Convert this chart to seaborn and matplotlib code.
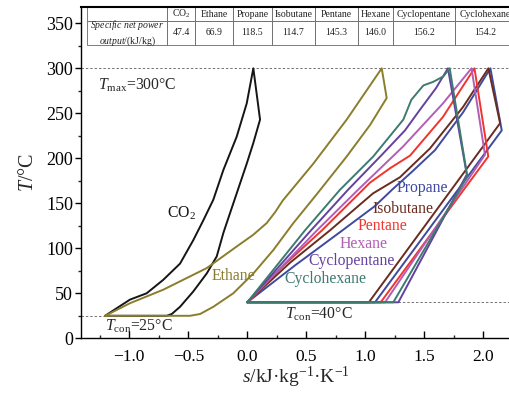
import matplotlib
matplotlib.use("Agg")
import matplotlib.pyplot as plt
from matplotlib.ticker import MultipleLocator
import seaborn as sns

# ---- table data -------------------------------------------------------
fluids = ["CO$_2$", "Ethane", "Propane", "Isobutane", "Pentane",
          "Hexane", "Cyclopentane", "Cyclohexane"]
net_power = [47.4, 66.9, 118.5, 114.7, 145.3, 146.0, 156.2, 154.2]
colors = ["#151515", "#8a7d2c", "#3f4a9e", "#6b2c20", "#f0352d",
          "#b35db5", "#6441a0", "#3e7b6f"]

# ---- characteristic temperatures (degC) -------------------------------
T_max = 300
T_con_co2 = 25
T_con_orc = 40

# ---- T-s cycle paths (s in kJ/(kg K), T in degC) -----------------------
s_co2 = [-1.205, -1.10, -0.994, -0.853, -0.712, -0.570, -0.458, -0.373,
         -0.288, -0.203, -0.09, -0.005, 0.051, 0.108, 0.051, -0.005, -0.09,
         -0.175, -0.203, -0.259, -0.344, -0.458, -0.57, -0.64, -0.683, -1.205]
T_co2 = [25, 34, 43, 50, 65, 83, 109, 131, 154, 187, 224, 261, 300, 243,
         217, 194, 161, 128, 117, 91, 72, 52, 35, 27, 25, 25]

s_ethane = [-1.205, -0.994, -0.712, -0.344, -0.09, 0.05, 0.164, 0.235,
            0.30, 0.559, 0.842, 1.139, 1.181, 1.04, 0.842, 0.588, 0.39, 0.22,
            0.051, -0.119, -0.288, -0.40, -0.486, -1.205]
T_ethane = [25, 39, 54, 78, 102, 115, 128, 140, 153, 194, 243, 300, 267,
            237, 202, 160, 128, 98, 72, 50, 35, 27, 25, 25]

s_propane = [0, 0.404, 0.786, 1.082, 1.226, 1.395, 1.59, 1.828, 2.06,
             2.156, 1.082, 0]
T_propane = [40, 81, 118, 147, 165, 185, 209, 251, 300, 231, 40, 40]

s_isobutane = [0, 0.362, 0.701, 1.065, 1.294, 1.548, 1.828, 2.043, 2.142,
               1.03, 0]
T_isobutane = [40, 84, 120, 161, 179, 211, 257, 300, 239, 40, 40]

s_pentane = [0, 0.30, 0.633, 1.040, 1.21, 1.379, 1.658, 1.925, 2.042, 1.13, 0]
T_pentane = [40, 80, 120, 173, 189, 203, 246, 300, 202, 40, 40]

s_hexane = [0, 0.591, 0.938, 1.319, 1.658, 1.90, 2.014, 1.167, 0]
T_hexane = [40, 120, 165, 213, 261, 300, 204, 40, 40]

s_cyclopentane = [0, 0.54, 0.853, 1.141, 1.336, 1.463, 1.599, 1.70, 1.86,
                  1.28, 0]
T_cyclopentane = [40, 120, 165, 204, 231, 254, 278, 300, 182, 40, 40]

s_cyclohexane = [0, 0.489, 0.785, 1.067, 1.322, 1.39, 1.492, 1.576, 1.661,
                 1.715, 1.864, 1.237, 0]
T_cyclohexane = [40, 120, 165, 202, 243, 265, 281, 285, 291, 300, 180, 40, 40]

cycles = [(s_co2, T_co2), (s_ethane, T_ethane), (s_propane, T_propane),
          (s_isobutane, T_isobutane), (s_pentane, T_pentane),
          (s_hexane, T_hexane), (s_cyclopentane, T_cyclopentane),
          (s_cyclohexane, T_cyclohexane)]

# curve label anchors (s, T)
label_s = [-0.557, -0.118, 1.485, 1.323, 1.146, 0.984, 0.885, 0.665]
label_T = [139, 69, 167, 144, 125, 105, 86, 66]

# ---- style --------------------------------------------------------------
sns.set_theme(style="ticks")
plt.rcParams["font.family"] = ["Liberation Serif", "DejaVu Serif"]
plt.rcParams["mathtext.fontset"] = "custom"
plt.rcParams["mathtext.rm"] = "Liberation Serif"
plt.rcParams["mathtext.it"] = "Liberation Serif:italic"
plt.rcParams["mathtext.bf"] = "Liberation Serif:bold"
plt.rcParams["axes.unicode_minus"] = True

fig = plt.figure(figsize=(5.10, 3.97), dpi=100)
ax = fig.add_axes([0.1598, 0.14786, 0.8402, 0.83375])
xlim = (-1.405, 2.226)
ylim = (0, 367.8)

# reference temperature levels
dash = dict(color="0.45", lw=0.7, ls=(0, (2.5, 2.0)), zorder=1)
ax.hlines(T_max, xlim[0], xlim[1], **dash)
ax.hlines(T_con_co2, xlim[0], s_co2[0], **dash)
ax.hlines(T_con_orc, s_cyclopentane[-2], xlim[1], **dash)

for (s, T), c in zip(cycles, colors):
    sns.lineplot(x=s, y=T, sort=False, estimator=None, color=c, lw=1.4,
                 ax=ax, zorder=3)

for name, c, xs, yt in zip(fluids, colors, label_s, label_T):
    ax.text(xs, yt, name, color=c, fontsize=11.3, ha="center", va="center",
            zorder=4)

ax.text(-1.263, 281, r"$T_{\rm max}$=300°C", fontsize=11.3, va="center")
ax.text(-1.206, 13, r"$T_{\rm con}$=25°C", fontsize=11.3, va="center")
ax.text(0.319, 27, r"$T_{\rm con}$=40°C", fontsize=11.3, va="center")

ax.set_xlim(*xlim)
ax.set_ylim(*ylim)
ax.xaxis.set_major_locator(MultipleLocator(0.5))
ax.xaxis.set_minor_locator(MultipleLocator(0.25))
ax.yaxis.set_major_locator(MultipleLocator(50))
ax.yaxis.set_minor_locator(MultipleLocator(25))
ax.set_xticks([-1.0, -0.5, 0.0, 0.5, 1.0, 1.5, 2.0])
ax.set_yticks(range(0, 351, 50))
ax.tick_params(axis="x", which="major", direction="in", length=5, width=1,
               labelsize=12.5, pad=7.5, colors="black")
ax.tick_params(axis="x", which="minor", direction="in", length=2.5, width=1)
ax.tick_params(axis="y", which="major", direction="out", length=4, width=1,
               labelsize=13, pad=2, colors="black")
ax.tick_params(axis="y", which="minor", direction="out", length=2.5, width=1)

for side in ["left", "bottom"]:
    ax.spines[side].set_linewidth(1.0)
    ax.spines[side].set_color("black")
ax.spines["top"].set_linewidth(1.5)
ax.spines["top"].set_color("black")
ax.spines["right"].set_visible(False)

ax.set_xlabel(r"$s$/kJ·kg$^{-1}$·K$^{-1}$", fontsize=14, labelpad=0)
ax.set_ylabel(r"$T$/°C", fontsize=14.5, labelpad=6)

# ---- specific net power table ----------------------------------------
row_label = (r"$\it{Specific\ net\ power}$" + "\n" + r"$\it{output/}$(kJ/kg)")
col_w = [79.7, 28, 38, 38.7, 43.6, 42.7, 35, 62, 60]
tot = sum(col_w)
tbl = ax.table(cellText=[[row_label] + [f"{v:.1f}" for v in net_power]],
               colLabels=[""] + fluids,
               colWidths=[w / tot for w in col_w],
               cellLoc="center",
               bbox=[0.01354, 0.8861, 0.9981, 0.1139])
tbl.auto_set_font_size(False)
tbl.set_fontsize(7)
for (r, c), cell in tbl.get_celld().items():
    cell.set_linewidth(0.6)
    cell.set_edgecolor("0.4")
    cell.set_height(13.4 if r == 0 else 24.3)
    cell.get_text().set_fontsize(7)
    cell.get_text().set_color("#222222")
    cell.set_zorder(5)

fig.savefig("out.png", dpi=100)
